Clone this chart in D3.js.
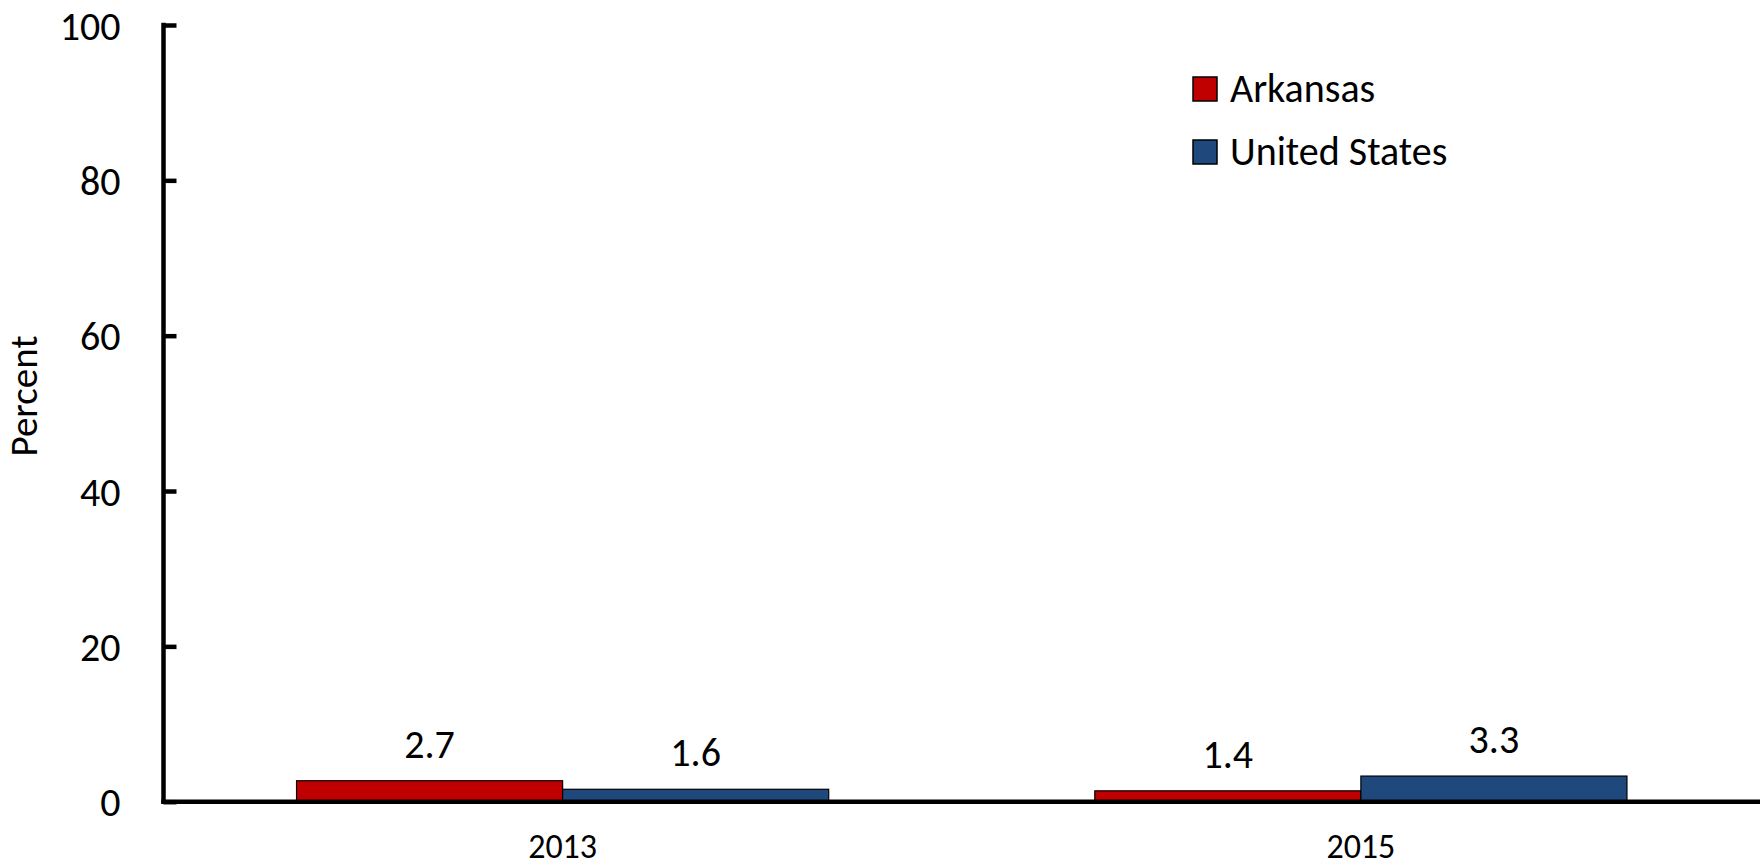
<!DOCTYPE html>
<html>
<head>
<meta charset="utf-8">
<script src="https://cdn.jsdelivr.net/npm/d3@7"></script>
<style>
  html, body { margin: 0; padding: 0; background: #fff; }
  svg text { font-family: Carlito, Calibri, Lato, sans-serif; fill: #000; }
</style>
</head>
<body>
<svg id="chart" width="1761" height="866"></svg>
<script>
const categories = ["2013", "2015"];
const seriesNames = ["Arkansas", "United States"];
const arkansas = [2.7, 1.4];
const unitedStates = [1.6, 3.3];
const yTicks = [0, 20, 40, 60, 80, 100];
const colors = ["#C00000", "#1F497D"];

const svg = d3.select("#chart");
const mLeft = 163.5, mRight = 1760, mTop = 25, mBottom = 801.7;

const data = categories.map((c, i) => ({ cat: c, values: [arkansas[i], unitedStates[i]] }));

const x0 = d3.scaleBand().domain(categories).range([mLeft, mRight]).paddingInner(0).paddingOuter(0);
const x1 = d3.scaleBand().domain(seriesNames).range([0, x0.bandwidth()]).paddingInner(0).paddingOuter(0.5);
const y = d3.scaleLinear().domain([0, 100]).range([mBottom, mTop]);

// bars
const groups = svg.append("g").selectAll("g").data(data).join("g")
  .attr("transform", d => `translate(${x0(d.cat)},0)`);
groups.selectAll("rect").data(d => d.values.map((v, j) => ({ v, s: seriesNames[j], j })))
  .join("rect")
  .attr("x", d => x1(d.s))
  .attr("y", d => y(d.v))
  .attr("width", x1.bandwidth())
  .attr("height", d => y(0) - y(d.v))
  .attr("fill", d => colors[d.j])
  .attr("stroke", "#000")
  .attr("stroke-width", 1.2);

// value labels
groups.selectAll("text.val").data(d => d.values.map((v, j) => ({ v, s: seriesNames[j], j })))
  .join("text")
  .attr("class", "val")
  .attr("x", d => x1(d.s) + x1.bandwidth() / 2)
  .attr("y", d => y(d.v) - 23)
  .attr("text-anchor", "middle")
  .style("font-size", "40px")
  .text(d => d.v.toFixed(1));

// y axis
const yAxis = svg.append("g").attr("transform", `translate(${mLeft},0)`)
  .call(d3.axisLeft(y).tickValues(yTicks).tickSizeInner(-13).tickSizeOuter(0).tickPadding(43));
yAxis.select(".domain").attr("stroke", "#000").attr("stroke-width", 4.5).attr("d", `M0,${mTop - 2.25}V${mBottom + 2.25}`);
yAxis.selectAll(".tick line").attr("stroke", "#000").attr("stroke-width", 4.5);
yAxis.selectAll(".tick text").style("font-size", "40px").attr("dy", "0.35em");

// x axis
const xAxis = svg.append("g").attr("transform", `translate(0,${mBottom})`)
  .call(d3.axisBottom(x0).tickSize(0).tickPadding(0));
xAxis.select(".domain").attr("stroke", "#000").attr("stroke-width", 4.5).attr("d", `M${mLeft - 2.25},0H${mRight}`);
xAxis.selectAll(".tick text").style("font-size", "34px").attr("y", 56).attr("dy", 0);

// y label
svg.append("text")
  .attr("transform", "translate(37,396) rotate(-90)")
  .attr("text-anchor", "middle")
  .style("font-size", "39px")
  .text("Percent");

// legend
const legend = svg.append("g").selectAll("g").data(seriesNames).join("g")
  .attr("transform", (d, i) => `translate(1193,${77 + i * 63})`);
legend.append("rect").attr("width", 24).attr("height", 24)
  .attr("fill", (d, i) => colors[i]).attr("stroke", "#000").attr("stroke-width", 1.5);
legend.append("text").attr("x", 37).attr("y", 24.5)
  .style("font-size", "40px").text(d => d);
</script>
</body>
</html>
